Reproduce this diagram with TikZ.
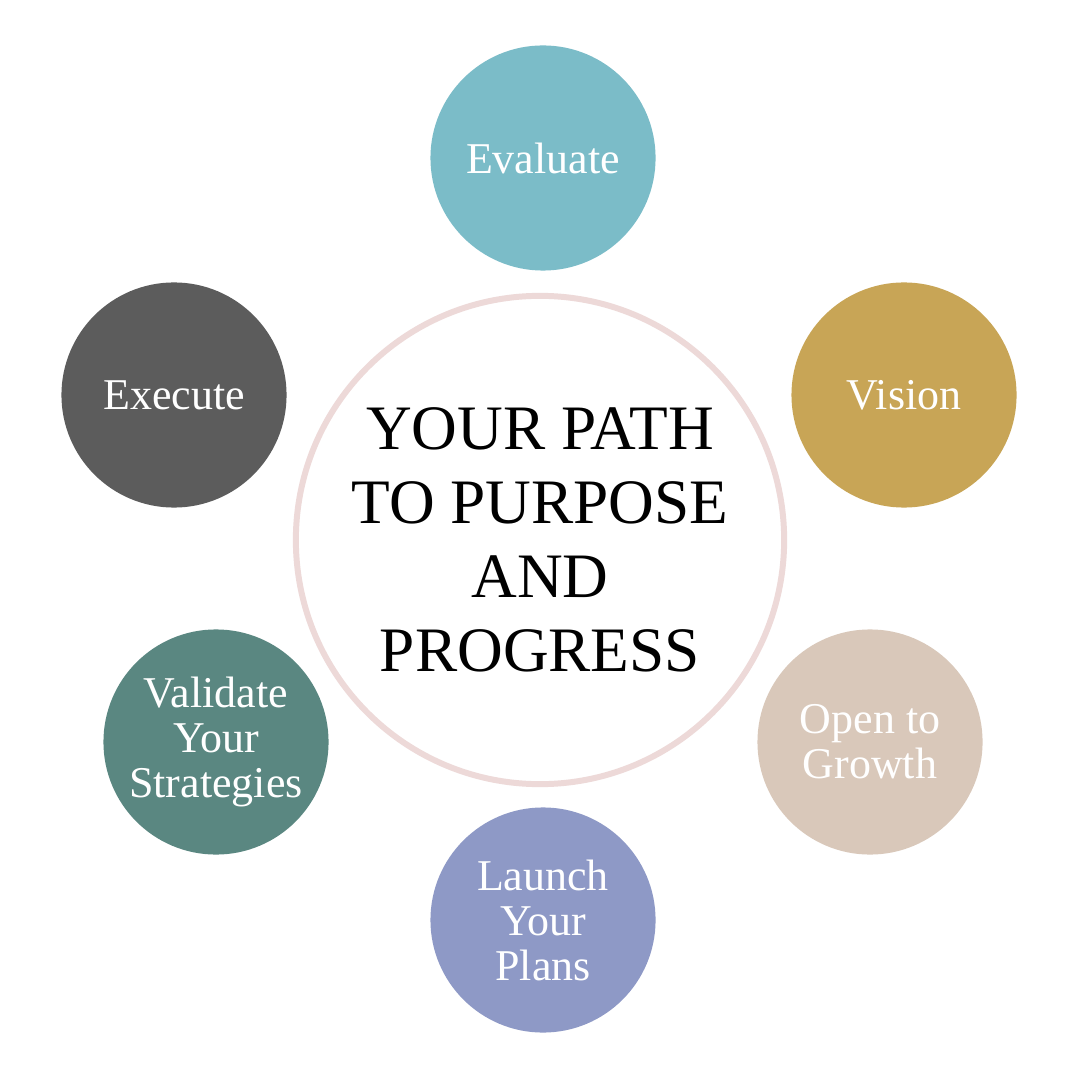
\documentclass[tikz,border=0pt]{standalone}
\usepackage{fontspec}
\setmainfont{Liberation Serif}
\usetikzlibrary{positioning}
\tikzset{
    stagedot/.style={circle, fill=#1, minimum size=2.25cm, inner sep=0pt, align=center, text=white, font=\fontsize{12.5}{12.8}\selectfont},
    hubring/.style={circle, draw=#1, line width=1.7pt, minimum size=4.88cm, inner sep=0pt, align=center, font=\fontsize{18}{21}\selectfont}
}
\definecolor{evalteal}{RGB}{123,188,200}
\definecolor{visiongold}{RGB}{200,165,86}
\definecolor{growthsand}{RGB}{217,200,186}
\definecolor{launchlilac}{RGB}{142,153,198}
\definecolor{validgreen}{RGB}{90,135,129}
\definecolor{execgray}{RGB}{92,92,92}
\definecolor{ringpink}{RGB}{237,217,216}

\begin{document}
\begin{tikzpicture}[x=0.01cm, y=-0.01cm]

\useasboundingbox (0,0) rectangle (1080,1080);
\fill[white] (0,0) rectangle (1080,1080);

\node[hubring=ringpink] (hub) at (540,540) {YOUR PATH\\TO PURPOSE\\AND\\PROGRESS};

\node[stagedot=evalteal] (evaluate) at (543,158) {Evaluate};
\node[stagedot=visiongold] (vision) at (904,395) {Vision};
\node[stagedot=growthsand] (growth) at (870,742) {Open to\\Growth};
\node[stagedot=launchlilac] (launch) at (543,920) {Launch\\Your\\Plans};
\node[stagedot=validgreen] (validate) at (216,742) {Validate\\Your\\Strategies};
\node[stagedot=execgray] (execute) at (174,395) {Execute};

\end{tikzpicture}
\end{document}
